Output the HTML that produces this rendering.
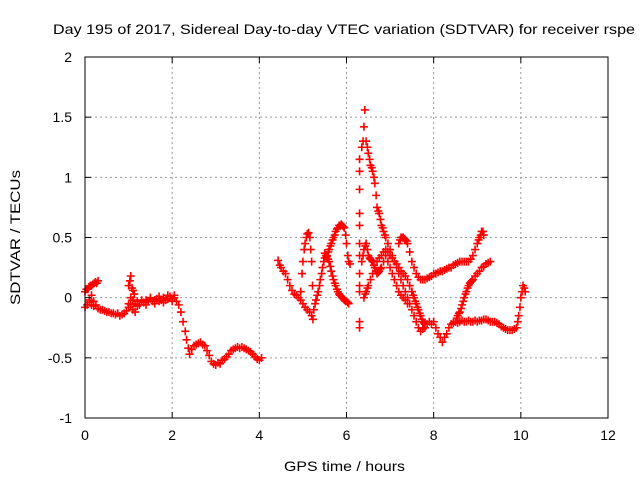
<!DOCTYPE html>
<html><head><meta charset="utf-8"><style>
body{margin:0;background:#fff}
svg{display:block;font-family:"Liberation Sans",sans-serif}
</style></head><body>
<svg id="chart" width="640" height="480">
<text x="53" y="34" font-size="14" textLength="582" lengthAdjust="spacingAndGlyphs">Day 195 of 2017, Sidereal Day-to-day VTEC variation (SDTVAR) for receiver rspe</text>
<text x="284" y="471" font-size="14" textLength="121" lengthAdjust="spacingAndGlyphs">GPS time / hours</text>
<text transform="translate(20,305) rotate(-90)" font-size="14" textLength="135" lengthAdjust="spacingAndGlyphs">SDTVAR / TECUs</text>
<g id="grid"></g><g id="marks"></g><g id="axes"></g>
</svg>
<script>
const xTicks=[0,2,4,6,8,10,12];
const yTicks=[-1,-0.5,0,0.5,1,1.5,2];
const yTickLabels=["-1","-0.5","0","0.5","1","1.5","2"];
const sAh=[0,0.05,0.1,0.15,0.2,0.25,0.3,0.35,0.4,0.45,0.5,0.55,0.6,0.65,0.7,0.75,0.8,0.85,0.9,0.95,1.0,1.05,1.1,1.15,1.2,1.25,1.3,1.35,1.4,1.45,1.5,1.55,1.6,1.65,1.7,1.75,1.8,1.85,1.9,1.95,2.0,2.05,2.1,2.15,2.2,2.25,2.3,2.33,2.37,2.4,2.45,2.5,2.55,2.6,2.65,2.7,2.75,2.8,2.85,2.9,2.95,3.0,3.05,3.1,3.15,3.2,3.25,3.3,3.35,3.4,3.45,3.5,3.55,3.6,3.65,3.7,3.75,3.8,3.85,3.9,3.95,4.0,4.05];
const sAv=[-0.08,-0.06,-0.04,-0.06,-0.07,-0.06,-0.09,-0.1,-0.1,-0.11,-0.12,-0.12,-0.13,-0.13,-0.14,-0.13,-0.15,-0.14,-0.13,-0.11,-0.08,-0.06,-0.02,-0.05,-0.03,-0.06,-0.03,-0.04,-0.02,-0.03,-0.01,-0.03,-0.02,-0.01,-0.03,-0.02,0.0,-0.02,-0.01,0.01,-0.01,0.0,-0.03,-0.06,-0.12,-0.2,-0.28,-0.35,-0.42,-0.47,-0.43,-0.4,-0.39,-0.38,-0.37,-0.39,-0.4,-0.44,-0.48,-0.53,-0.55,-0.56,-0.54,-0.55,-0.52,-0.51,-0.49,-0.47,-0.44,-0.43,-0.42,-0.41,-0.42,-0.41,-0.42,-0.43,-0.44,-0.45,-0.47,-0.49,-0.51,-0.52,-0.5];
const sA2h=[1.0,1.05,1.1,1.15,1.2,1.3,1.4,1.5,1.6,1.7,1.8,1.9,2.0,2.05];
const sA2v=[-0.05,0.0,-0.1,-0.12,-0.07,-0.02,-0.06,0.0,-0.05,0.01,-0.04,0.02,-0.03,0.02];
const sBh=[0,0.03,0.06,0.09,0.12,0.15,0.18,0.21,0.24,0.27,0.3,0.1,0.15,0.2,1.0,1.03,1.05,1.08,1.1,1.13];
const sBv=[0.05,0.07,0.07,0.09,0.1,0.1,0.11,0.12,0.13,0.12,0.14,-0.02,0.02,-0.03,0.1,0.14,0.18,0.08,0.06,0.03];
const sCh=[4.43,4.47,4.5,4.55,4.6,4.65,4.7,4.75,4.8,4.85,4.9,4.95,5.0,5.05,5.1,5.15,5.2,5.23];
const sCv=[0.31,0.27,0.25,0.22,0.2,0.15,0.1,0.06,0.03,0.02,0.0,-0.02,-0.05,-0.08,-0.1,-0.12,-0.15,-0.18];
const sDh=[4.95,4.98,5.0,5.03,5.05,5.08,5.1,5.13,5.16,5.18,5.2,5.22];
const sDv=[0.05,0.2,0.3,0.4,0.45,0.5,0.53,0.54,0.5,0.4,0.3,0.1];
const sEh=[5.25,5.28,5.3,5.33,5.35,5.38,5.4,5.43,5.45,5.48,5.5,5.53,5.55,5.58,5.6,5.63,5.65,5.68,5.7,5.73,5.75,5.78,5.8,5.83,5.85,5.88,5.9,5.93,5.95,5.98,6.0,6.03,6.05,6.08];
const sEv=[-0.1,-0.05,-0.02,0.02,0.05,0.1,0.15,0.2,0.25,0.3,0.33,0.35,0.35,0.38,0.4,0.43,0.45,0.48,0.5,0.52,0.55,0.57,0.58,0.6,0.6,0.61,0.6,0.59,0.58,0.52,0.45,0.35,0.3,0.28];
const sFh=[5.5,5.53,5.55,5.58,5.6,5.63,5.65,5.68,5.7,5.73,5.75,5.78,5.8,5.83,5.85,5.88,5.9,5.93,5.95,5.98,6.0,6.03,6.05];
const sFv=[0.37,0.35,0.34,0.32,0.3,0.26,0.22,0.18,0.15,0.12,0.1,0.07,0.05,0.03,0.02,0.01,0.0,-0.01,-0.02,-0.03,-0.03,-0.04,-0.05];
const sGh=[6.35,6.38,6.4,6.42,6.45,6.48,6.5,6.53,6.55,6.58,6.6,6.63,6.65,6.68,6.7,6.73,6.75,6.78,6.8,6.83,6.85,6.88,6.9,6.95,7.0,7.05,7.1,7.15,7.2,7.25,7.3,7.35,7.4,7.45,7.5,7.55,7.6,7.65,7.7,7.75,7.8,7.85,7.9,7.95,8.0,8.05,8.1,8.15,8.2,8.25,8.3,8.35,8.4,8.45,8.5,8.55,8.6,8.65,8.7,8.75,8.8,8.85,8.9,8.95,9.0,9.05,9.1,9.15,9.2,9.25,9.3,9.35,9.4,9.45,9.5,9.55,9.6,9.65,9.7,9.75,9.8,9.85,9.9,9.93,9.95,9.98,10.0,10.03,10.05,10.08,10.1];
const sGv=[1.25,1.3,1.42,1.56,1.3,1.25,1.2,1.15,1.1,1.08,1.05,1.0,0.95,0.85,0.75,0.72,0.7,0.65,0.6,0.58,0.55,0.52,0.5,0.45,0.4,0.35,0.3,0.25,0.2,0.15,0.1,0.05,0.0,-0.05,-0.1,-0.15,-0.2,-0.25,-0.28,-0.26,-0.25,-0.22,-0.2,-0.22,-0.2,-0.25,-0.3,-0.33,-0.37,-0.33,-0.3,-0.25,-0.22,-0.21,-0.2,-0.21,-0.2,-0.19,-0.2,-0.2,-0.19,-0.2,-0.2,-0.19,-0.2,-0.19,-0.19,-0.18,-0.18,-0.19,-0.2,-0.2,-0.2,-0.21,-0.22,-0.24,-0.25,-0.26,-0.27,-0.27,-0.27,-0.26,-0.25,-0.2,-0.15,-0.08,0.0,0.05,0.1,0.08,0.05];
const sHh=[6.35,6.38,6.4,6.43,6.45,6.48,6.5,6.53,6.55,6.58,6.6,6.63,6.65,6.68,6.7,6.73,6.75,6.78,6.8,6.85,6.9,6.95,7.0,7.05,7.1,7.15,7.2,7.25,7.3,7.35,7.4];
const sHv=[0.3,0.35,0.4,0.43,0.45,0.4,0.35,0.33,0.32,0.31,0.3,0.27,0.25,0.22,0.2,0.21,0.22,0.24,0.25,0.3,0.35,0.3,0.25,0.2,0.15,0.1,0.05,0.02,0.0,-0.02,-0.05];
const sIh=[7.2,7.23,7.25,7.28,7.3,7.33,7.35,7.38,7.4,7.45,7.5,7.55,7.6,7.65,7.7,7.75,7.8,7.85,7.9,7.95,8.0,8.05,8.1,8.15,8.2,8.25,8.3,8.35,8.4,8.45,8.5,8.55,8.6,8.65,8.7,8.75,8.8,8.85,8.9,8.95,9.0,9.03,9.05,9.08,9.1,9.13,9.15];
const sIv=[0.45,0.48,0.5,0.5,0.5,0.49,0.48,0.47,0.45,0.38,0.3,0.25,0.2,0.17,0.15,0.15,0.15,0.16,0.17,0.18,0.2,0.2,0.21,0.22,0.22,0.23,0.24,0.25,0.25,0.27,0.28,0.29,0.3,0.3,0.3,0.3,0.3,0.32,0.35,0.4,0.45,0.48,0.5,0.52,0.55,0.55,0.52];
const sJh=[7.45,7.5,7.53,7.55,7.58,7.6,7.63,7.65,7.68,7.7,7.73,7.75,7.78,7.8];
const sJv=[0.1,0.05,0.02,0.0,-0.03,-0.05,-0.08,-0.1,-0.13,-0.15,-0.18,-0.2,-0.21,-0.22];
const sKh=[8.5,8.53,8.55,8.58,8.6,8.63,8.65,8.68,8.7,8.73,8.75,8.78,8.8,8.83,8.85,8.88,8.9,8.95,9.0,9.05,9.1,9.15,9.2,9.25,9.3];
const sKv=[-0.2,-0.17,-0.15,-0.13,-0.12,-0.09,-0.06,-0.03,0.0,0.03,0.05,0.08,0.1,0.12,0.13,0.14,0.15,0.18,0.2,0.22,0.25,0.26,0.28,0.29,0.3];
const sLh=[6.3,6.3,6.3,6.3,6.3,6.3,6.3,6.3,6.3,6.3,6.3,6.3,6.4,6.43,6.45,6.48,6.5,6.55,6.6,6.65,6.7,6.75,6.8,6.85,6.9,6.95,7.0,7.05,7.1,7.15,7.2,7.25,7.3,7.35,7.4,7.45,7.5];
const sLv=[-0.25,-0.2,0.05,0.1,0.2,0.35,0.45,0.6,0.7,0.9,1.05,1.15,0.0,0.03,0.05,0.08,0.1,0.15,0.2,0.25,0.3,0.33,0.35,0.38,0.4,0.38,0.35,0.33,0.3,0.28,0.25,0.22,0.2,0.18,0.15,0.1,0.05];
const series=[[sAh,sAv],[sA2h,sA2v],[sBh,sBv],[sCh,sCv],[sDh,sDv],[sEh,sEv],[sFh,sFv],[sGh,sGv],[sHh,sHv],[sIh,sIv],[sJh,sJv],[sKh,sKv],[sLh,sLv]];
const L=85,R=608,T=57,B=418;
const X=h=>L+(h-0)/12*(R-L);
const Y=v=>B-(v+1)/3*(B-T);
const NS="http://www.w3.org/2000/svg";
function mk(tag,attrs,parent){const e=document.createElementNS(NS,tag);for(const k in attrs)e.setAttribute(k,attrs[k]);parent.appendChild(e);return e;}
const grid=document.getElementById('grid'),axes=document.getElementById('axes'),marks=document.getElementById('marks');
xTicks.forEach((t,i)=>{
  if(t>0&&t<12){const g=mk('line',{x1:X(t),x2:X(t),y1:T,y2:B,stroke:'#999','stroke-dasharray':'2,3'},grid);
  
  }
  const tx=mk('text',{x:X(t),y:B+22,'text-anchor':'middle','font-size':14},axes);tx.textContent=t;
  
  
  mk('line',{x1:X(t),x2:X(t),y1:B,y2:B-6,stroke:'#000'},axes);
  mk('line',{x1:X(t),x2:X(t),y1:T,y2:T+6,stroke:'#000'},axes);
});
yTicks.forEach((t,i)=>{
  if(t>-1&&t<2){const g=mk('line',{x1:L,x2:R,y1:Y(t),y2:Y(t),stroke:'#999','stroke-dasharray':'2,3'},grid);
  
  }
  const tx=mk('text',{x:L-13,y:Y(t)+5,'text-anchor':'end','font-size':14},axes);tx.textContent=yTickLabels[i];
  
  
  mk('line',{x1:L,x2:L+6,y1:Y(t),y2:Y(t),stroke:'#000'},axes);
  mk('line',{x1:R,x2:R-6,y1:Y(t),y2:Y(t),stroke:'#000'},axes);
});
const frame=mk('rect',{x:L,y:T,width:R-L,height:B-T,fill:'none',stroke:'#000'},axes);


series.forEach(([hs,vs])=>{
  hs.forEach((h,i)=>{
    const x=X(h),y=Y(vs[i]);
    const p=mk('path',{d:`M${x-4},${y}H${x+4}M${x},${y-4}V${y+4}`,stroke:'#f00','stroke-width':1.6},marks);
    
    
  });
});
</script>
</body></html>
